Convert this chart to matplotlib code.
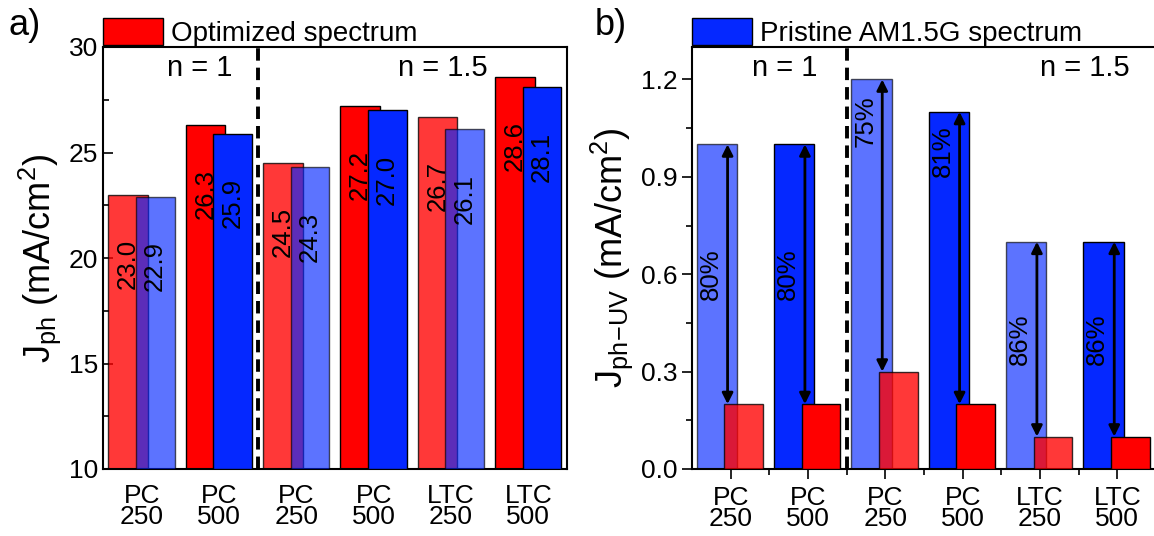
import numpy as np
import matplotlib
matplotlib.use("Agg")
import matplotlib.pyplot as plt
from matplotlib.patches import Patch
from matplotlib.ticker import MultipleLocator, FixedLocator

plt.rcParams['font.family'] = ['Liberation Sans', 'DejaVu Sans']
plt.rcParams['mathtext.fontset'] = 'custom'
plt.rcParams['mathtext.rm'] = 'Liberation Sans'
plt.rcParams['mathtext.it'] = 'Liberation Sans'

# samples (same order in both panels)
samples = ['PC\n250', 'PC\n500', 'PC\n250', 'PC\n500', 'LTC\n250', 'LTC\n500']
thin_layer = [True, False, True, False, True, False]   # 250 nm samples drawn lighter

# a) total photocurrent, mA/cm2
jph_optimized = [23.0, 26.3, 24.5, 27.2, 26.7, 28.6]
jph_pristine = [22.9, 25.9, 24.3, 27.0, 26.1, 28.1]

# b) UV photocurrent, mA/cm2
juv_pristine = [1.0, 1.0, 1.2, 1.1, 0.7, 0.7]
juv_optimized = [0.2, 0.2, 0.3, 0.2, 0.1, 0.1]
uv_loss = ['80%', '80%', '75%', '81%', '86%', '86%']
uv_loss_y = [0.60, 0.60, 1.07, 0.98, 0.40, 0.40]

RED = '#ff0000'
BLUE = '#0528ff'
A_RED, A_BLUE = 0.78, 0.65

TICK_FS = 19
LABEL_FS = 26

x = np.arange(1, len(samples) + 1)

fig = plt.figure(figsize=(11.54, 5.36), dpi=100)
ax1 = fig.add_axes([103 / 1154, 67 / 536, 464 / 1154, 422 / 536])
ax2 = fig.add_axes([692 / 1154, 67 / 536, 464 / 1154, 422 / 536])


def red_alpha(thin):
    return A_RED if thin else 1.0


def blue_alpha(thin):
    return A_BLUE if thin else 1.0


# ---- panel a ----
for xi, r, b, thin in zip(x, jph_optimized, jph_pristine, thin_layer):
    ax1.bar(xi - 0.175, r - 10, bottom=10, width=0.51, color=RED, alpha=red_alpha(thin),
            edgecolor='k', linewidth=1, zorder=2)
    ax1.bar(xi + 0.175, b - 10, bottom=10, width=0.50, color=BLUE, alpha=blue_alpha(thin),
            edgecolor='k', linewidth=1, zorder=3)
    ax1.text(xi - 0.175, r - 2.1, f'{r:.1f}', rotation=90, ha='center', va='top',
             fontsize=18.5, zorder=5)
    ax1.text(xi + 0.175, b - 2.1, f'{b:.1f}', rotation=90, ha='center', va='top',
             fontsize=18.5, zorder=5)

ax1.axvline(2.5, color='k', ls=(0, (3.2, 1.8)), lw=2.8, zorder=4)
ax1.set_xlim(0.5, 6.5)
ax1.set_ylim(10, 30)
ax1.yaxis.set_major_locator(MultipleLocator(5))
ax1.yaxis.set_minor_locator(MultipleLocator(2.5))
ax1.tick_params(axis='y', which='major', direction='in', length=7, width=1.2,
                labelsize=TICK_FS)
ax1.tick_params(axis='y', which='minor', direction='in', length=4, width=1.2)
ax1.set_xticks(x)
ax1.set_xticklabels(samples, fontsize=TICK_FS, linespacing=0.85)
ax1.tick_params(axis='x', length=0, pad=11)
ax1.set_ylabel(r'J$_{\mathrm{ph}}$ (mA/cm$^{2}$)', fontsize=LABEL_FS, labelpad=4)
ax1.text(1.75, 0.95, 'n = 1', transform=ax1.get_xaxis_transform(), ha='center', va='center',
         fontsize=21)
ax1.text(4.89, 0.95, 'n = 1.5', transform=ax1.get_xaxis_transform(), ha='center', va='center',
         fontsize=21)
ax1.legend(handles=[Patch(facecolor=RED, edgecolor='k', linewidth=1)],
           labels=['Optimized spectrum'], loc='lower left', bbox_to_anchor=(0, 1),
           borderaxespad=0, borderpad=0, frameon=False, fontsize=20,
           handlelength=2.15, handleheight=1.1, handletextpad=0.3)

# ---- panel b ----
for xi, b, r, lab, ly, thin in zip(x, juv_pristine, juv_optimized, uv_loss, uv_loss_y, thin_layer):
    ax2.bar(xi - 0.18, b, width=0.52, color=BLUE, alpha=blue_alpha(thin),
            edgecolor='k', linewidth=1, zorder=2)
    ax2.bar(xi + 0.17, r, width=0.50, color=RED, alpha=red_alpha(thin),
            edgecolor='k', linewidth=1, zorder=3)
    ax2.annotate('', xy=(xi - 0.04, r), xytext=(xi - 0.04, b),
                 arrowprops=dict(arrowstyle='<|-|>', color='k', lw=2, mutation_scale=16,
                                 shrinkA=0, shrinkB=0), zorder=5)
    ax2.text(xi - 0.26, ly, lab, rotation=90, ha='center', va='center', fontsize=18.5,
             zorder=5)

ax2.axvline(2.5, color='k', ls=(0, (3.2, 1.8)), lw=2.8, zorder=4)
ax2.set_xlim(0.5, 6.5)
ax2.set_ylim(0, 1.3)
ax2.yaxis.set_major_locator(FixedLocator([0.0, 0.3, 0.6, 0.9, 1.2]))
ax2.yaxis.set_minor_locator(MultipleLocator(0.15))
ax2.yaxis.set_major_formatter(lambda v, pos: f'{v:.1f}')
ax2.tick_params(axis='y', which='major', direction='out', length=7, width=1.2,
                labelsize=TICK_FS)
ax2.tick_params(axis='y', which='minor', direction='out', length=4, width=1.2)
ax2.set_xticks(x)
ax2.set_xticklabels(samples, fontsize=TICK_FS, linespacing=0.85)
ax2.xaxis.set_minor_locator(FixedLocator(x[:-1] + 0.5))
ax2.tick_params(axis='x', which='major', direction='out', length=7, width=1.2, pad=5)
ax2.tick_params(axis='x', which='minor', direction='out', length=4, width=1.2)
ax2.set_ylabel(r'J$_{\mathrm{ph\!-\!UV}}$ (mA/cm$^{2}$)', fontsize=LABEL_FS, labelpad=4)
ax2.text(1.70, 0.95, 'n = 1', transform=ax2.get_xaxis_transform(), ha='center', va='center',
         fontsize=21)
ax2.text(5.58, 0.95, 'n = 1.5', transform=ax2.get_xaxis_transform(), ha='center', va='center',
         fontsize=21)
ax2.legend(handles=[Patch(facecolor=BLUE, edgecolor='k', linewidth=1)],
           labels=['Pristine AM1.5G spectrum'], loc='lower left', bbox_to_anchor=(0, 1),
           borderaxespad=0, borderpad=0, frameon=False, fontsize=20,
           handlelength=2.15, handleheight=1.1, handletextpad=0.3)

for ax in (ax1, ax2):
    for s in ax.spines.values():
        s.set_linewidth(1.5)

fig.text(0.007, 0.985, 'a)', fontsize=LABEL_FS, ha='left', va='top')
fig.text(0.515, 0.985, 'b)', fontsize=LABEL_FS, ha='left', va='top')

fig.savefig('out.png', dpi=100)
